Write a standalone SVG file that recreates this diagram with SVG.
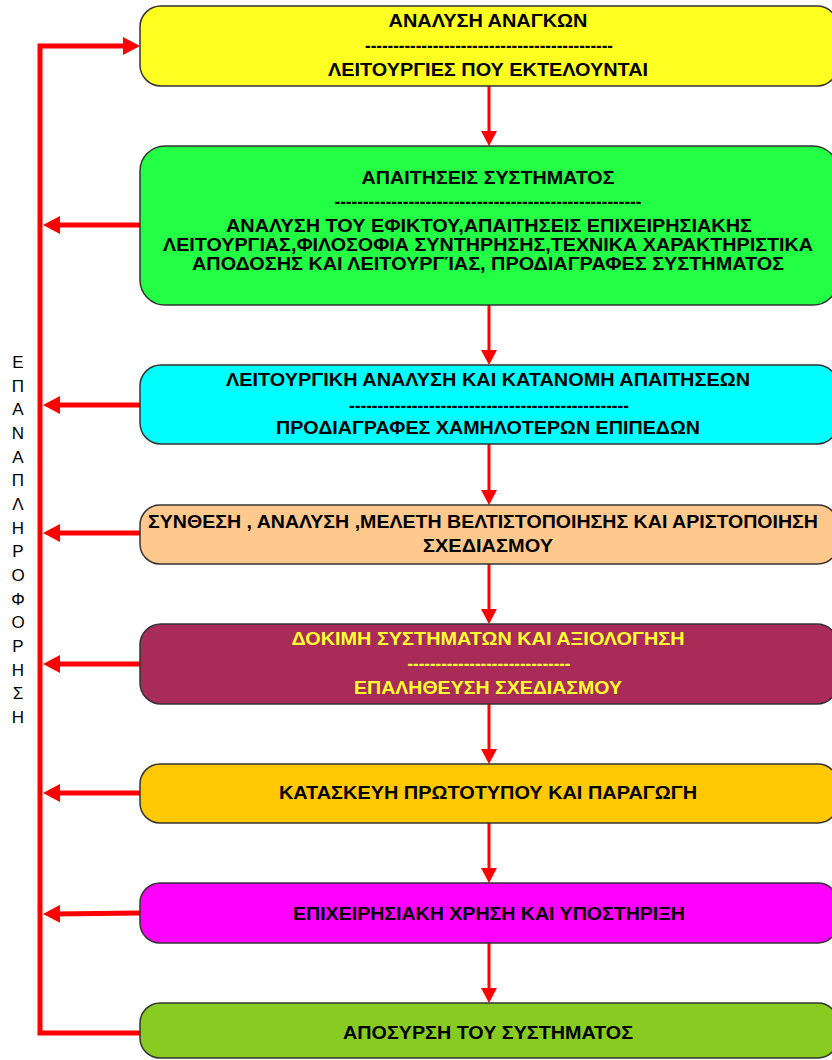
<svg xmlns="http://www.w3.org/2000/svg" width="832" height="1060" viewBox="0 0 832 1060">
  <style>
    .box { stroke: #333333; stroke-width: 1.5; }
    .t { font-family: "Liberation Sans", Arial, sans-serif; font-weight: bold; font-size: 19px; fill: #000000; text-anchor: middle; }
    .ty { fill: #FFFF33; }
    .side { font-family: "Liberation Sans", Arial, sans-serif; font-size: 17px; fill: #000000; text-anchor: middle; }
    .flow { stroke: #FF0000; stroke-width: 3; fill: none; }
    .fb { stroke: #FF0000; stroke-width: 5; fill: none; }
  </style>
  <defs>
    <!-- filled arrowhead, tip sits 10px beyond the end of the line -->
    <marker id="headLeft" markerUnits="userSpaceOnUse" markerWidth="18" markerHeight="18" refX="7" refY="9" orient="auto" viewBox="0 0 18 18">
      <path d="M0,0 L17,9 L0,18 Z" fill="#FF0000"/>
    </marker>
  </defs>

  <!-- feedback loop and flow connectors -->
  <g id="connectors">
    <path class="fb" d="M140,1033 H40 V46 H130" marker-end="url(#headLeft)"/>
    <line class="fb" x1="140" y1="225" x2="53" y2="225" marker-end="url(#headLeft)"/>
    <line class="fb" x1="140" y1="405" x2="53" y2="405" marker-end="url(#headLeft)"/>
    <line class="fb" x1="140" y1="533" x2="53" y2="533" marker-end="url(#headLeft)"/>
    <line class="fb" x1="140" y1="664" x2="53" y2="664" marker-end="url(#headLeft)"/>
    <line class="fb" x1="140" y1="793" x2="53" y2="793" marker-end="url(#headLeft)"/>
    <line class="fb" x1="140" y1="913" x2="53" y2="914" marker-end="url(#headLeft)"/>

    <g class="down">
      <line class="flow" x1="489" y1="86" x2="489" y2="132"/>
      <path d="M481,131 L497,131 L489,146 Z" fill="#FF0000"/>
      <line class="flow" x1="489" y1="305" x2="489" y2="351"/>
      <path d="M481,350 L497,350 L489,365 Z" fill="#FF0000"/>
      <line class="flow" x1="489" y1="444" x2="489" y2="491"/>
      <path d="M481,490 L497,490 L489,505 Z" fill="#FF0000"/>
      <line class="flow" x1="489" y1="564" x2="489" y2="610"/>
      <path d="M481,609 L497,609 L489,624 Z" fill="#FF0000"/>
      <line class="flow" x1="489" y1="704" x2="489" y2="750"/>
      <path d="M481,749 L497,749 L489,764 Z" fill="#FF0000"/>
      <line class="flow" x1="489" y1="823" x2="489" y2="869"/>
      <path d="M481,868 L497,868 L489,883 Z" fill="#FF0000"/>
      <line class="flow" x1="489" y1="943" x2="489" y2="989"/>
      <path d="M481,988 L497,988 L489,1003 Z" fill="#FF0000"/>
    </g>
  </g>

  <!-- vertical feedback label -->
  <g id="feedback-label">
    <text class="side" x="18" y="368">Ε</text>
    <text class="side" x="18" y="392">Π</text>
    <text class="side" x="18" y="415">Α</text>
    <text class="side" x="18" y="439">Ν</text>
    <text class="side" x="18" y="463">Α</text>
    <text class="side" x="18" y="486">Π</text>
    <text class="side" x="18" y="510">Λ</text>
    <text class="side" x="18" y="534">Η</text>
    <text class="side" x="18" y="557">Ρ</text>
    <text class="side" x="18" y="581">Ο</text>
    <text class="side" x="18" y="605">Φ</text>
    <text class="side" x="18" y="628">Ο</text>
    <text class="side" x="18" y="652">Ρ</text>
    <text class="side" x="18" y="676">Η</text>
    <text class="side" x="18" y="699">Σ</text>
    <text class="side" x="18" y="723">Η</text>
  </g>

  <g id="needs-analysis">
    <rect class="box" x="140" y="6" width="698" height="80" rx="21" fill="#FFFF22"/>
    <text class="t" x="488" y="27" textLength="199" lengthAdjust="spacingAndGlyphs">ΑΝΑΛΥΣΗ ΑΝΑΓΚΩΝ</text>
    <text class="t" x="489" y="52" textLength="248" lengthAdjust="spacingAndGlyphs">--------------------------------------------</text>
    <text class="t" x="488" y="76" textLength="320" lengthAdjust="spacingAndGlyphs">ΛΕΙΤΟΥΡΓΙΕΣ ΠΟΥ ΕΚΤΕΛΟΥΝΤΑΙ</text>
  </g>

  <g id="system-requirements">
    <rect class="box" x="140" y="146" width="698" height="159" rx="25" fill="#22FF44"/>
    <text class="t" x="488" y="184" textLength="253" lengthAdjust="spacingAndGlyphs">ΑΠΑΙΤΗΣΕΙΣ ΣΥΣΤΗΜΑΤΟΣ</text>
    <text class="t" x="488" y="208" textLength="307" lengthAdjust="spacingAndGlyphs">------------------------------------------------------</text>
    <text class="t" x="489" y="232" textLength="526" lengthAdjust="spacingAndGlyphs">ΑΝΑΛΥΣΗ ΤΟΥ ΕΦΙΚΤΟΥ,ΑΠΑΙΤΗΣΕΙΣ ΕΠΙΧΕΙΡΗΣΙΑΚΗΣ</text>
    <text class="t" x="488" y="251" textLength="650" lengthAdjust="spacingAndGlyphs">ΛΕΙΤΟΥΡΓΙΑΣ,ΦΙΛΟΣΟΦΙΑ ΣΥΝΤΗΡΗΣΗΣ,ΤΕΧΝΙΚΑ ΧΑΡΑΚΤΗΡΙΣΤΙΚΑ</text>
    <text class="t" x="488" y="270" textLength="592" lengthAdjust="spacingAndGlyphs">ΑΠΟΔΟΣΗΣ ΚΑΙ ΛΕΙΤΟΥΡΓΊΑΣ, ΠΡΟΔΙΑΓΡΑΦΕΣ ΣΥΣΤΗΜΑΤΟΣ</text>
  </g>

  <g id="functional-analysis">
    <rect class="box" x="140" y="365" width="698" height="79" rx="21" fill="#00FFFF"/>
    <text class="t" x="488" y="386" textLength="524" lengthAdjust="spacingAndGlyphs">ΛΕΙΤΟΥΡΓΙΚΗ ΑΝΑΛΥΣΗ ΚΑΙ ΚΑΤΑΝΟΜΗ ΑΠΑΙΤΗΣΕΩΝ</text>
    <text class="t" x="489" y="412" textLength="280" lengthAdjust="spacingAndGlyphs">-------------------------------------------------</text>
    <text class="t" x="488" y="434" textLength="424" lengthAdjust="spacingAndGlyphs">ΠΡΟΔΙΑΓΡΑΦΕΣ ΧΑΜΗΛΟΤΕΡΩΝ ΕΠΙΠΕΔΩΝ</text>
  </g>

  <g id="synthesis">
    <rect class="box" x="140" y="505" width="698" height="59" rx="20" fill="#FFC98E"/>
    <text class="t" x="483" y="528" textLength="670" lengthAdjust="spacingAndGlyphs">ΣΥΝΘΕΣΗ , ΑΝΑΛΥΣΗ ,ΜΕΛΕΤΗ ΒΕΛΤΙΣΤΟΠΟΙΗΣΗΣ ΚΑΙ ΑΡΙΣΤΟΠΟΙΗΣΗ</text>
    <text class="t" x="488" y="552" textLength="130" lengthAdjust="spacingAndGlyphs">ΣΧΕΔΙΑΣΜΟΥ</text>
  </g>

  <g id="testing">
    <rect class="box" x="140" y="624" width="698" height="80" rx="21" fill="#A92C58"/>
    <text class="t ty" x="488" y="645" textLength="393" lengthAdjust="spacingAndGlyphs">ΔΟΚΙΜΗ ΣΥΣΤΗΜΑΤΩΝ ΚΑΙ ΑΞΙΟΛΟΓΗΣΗ</text>
    <text class="t ty" x="489" y="670" textLength="163" lengthAdjust="spacingAndGlyphs">-----------------------------</text>
    <text class="t ty" x="488" y="694" textLength="268" lengthAdjust="spacingAndGlyphs">ΕΠΑΛΗΘΕΥΣΗ ΣΧΕΔΙΑΣΜΟΥ</text>
  </g>

  <g id="production">
    <rect class="box" x="140" y="764" width="698" height="59" rx="20" fill="#FFC800"/>
    <text class="t" x="488" y="799" textLength="418" lengthAdjust="spacingAndGlyphs">ΚΑΤΑΣΚΕΥΗ ΠΡΩΤΟΤΥΠΟΥ ΚΑΙ ΠΑΡΑΓΩΓΗ</text>
  </g>

  <g id="operation">
    <rect class="box" x="140" y="883" width="698" height="60" rx="20" fill="#FF00FF"/>
    <text class="t" x="489" y="920" textLength="392" lengthAdjust="spacingAndGlyphs">ΕΠΙΧΕΙΡΗΣΙΑΚΗ ΧΡΗΣΗ ΚΑΙ ΥΠΟΣΤΗΡΙΞΗ</text>
  </g>

  <g id="retirement">
    <rect class="box" x="140" y="1003" width="698" height="55" rx="20" fill="#88CC22"/>
    <text class="t" x="488" y="1039" textLength="290" lengthAdjust="spacingAndGlyphs">ΑΠΟΣΥΡΣΗ ΤΟΥ ΣΥΣΤΗΜΑΤΟΣ</text>
  </g>
</svg>
